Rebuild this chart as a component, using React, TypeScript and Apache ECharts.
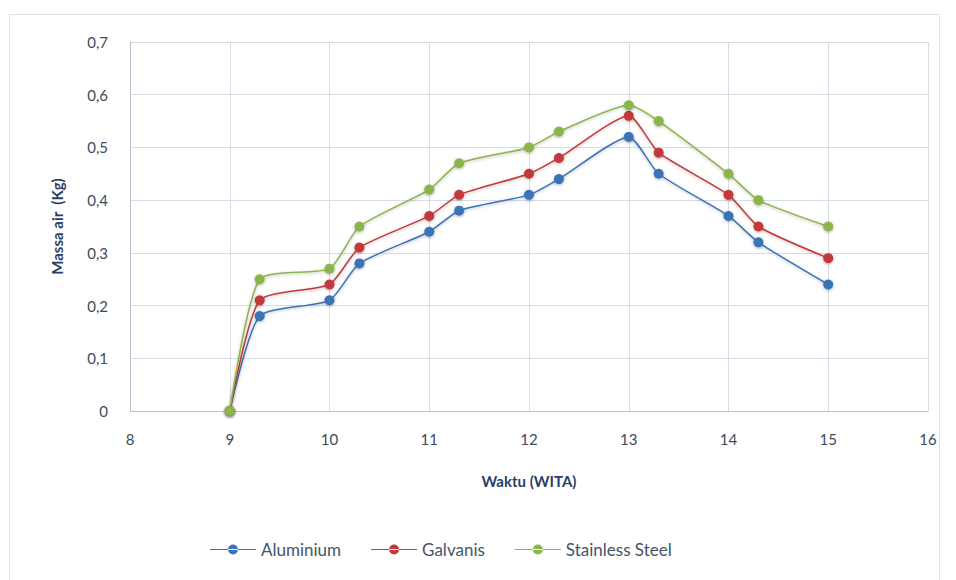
import React, { useEffect, useRef } from "react";
import * as echarts from "echarts";

const times = [9, 9.3, 10, 10.3, 11, 11.3, 12, 12.3, 13, 13.3, 14, 14.3, 15];
const aluminium = [0, 0.18, 0.21, 0.28, 0.34, 0.38, 0.41, 0.44, 0.52, 0.45, 0.37, 0.32, 0.24];
const galvanis = [0, 0.21, 0.24, 0.31, 0.37, 0.41, 0.45, 0.48, 0.56, 0.49, 0.41, 0.35, 0.29];
const stainless = [0, 0.25, 0.27, 0.35, 0.42, 0.47, 0.5, 0.53, 0.58, 0.55, 0.45, 0.4, 0.35];
const seriesNames = ["Aluminium", "Galvanis", "Stainless Steel"];
const colors = ["#3a73b8", "#c4393a", "#8cb548"];

const font = "Lato, 'Open Sans', sans-serif";
const legendIcon =
  "path://M0,4.4h46v1.2h-46z M18,5a5,5 0 1,0 10,0a5,5 0 1,0 -10,0z";

export default function App() {
  const ref = useRef<HTMLDivElement>(null);
  useEffect(() => {
    if (!ref.current) return;
    const chart = echarts.init(ref.current, null, { renderer: "svg" });
    const datasets = [aluminium, galvanis, stainless];
    chart.setOption({
      animation: false,
      backgroundColor: "#ffffff",
      color: colors,
      graphic: [
        {
          type: "rect",
          left: 7,
          top: 12,
          shape: { width: 930, height: 580 },
          style: { fill: "none", stroke: "#dce3ea", lineWidth: 1 },
          silent: true,
          z: -1,
        },
      ],
      grid: { left: 130, right: 28, top: 42, bottom: 169 },
      legend: {
        top: 536,
        left: 205,
        itemWidth: 46,
        itemHeight: 10,
        itemGap: 30,
        textStyle: { fontFamily: font, fontSize: 17, color: "#44546a" },
        data: seriesNames.map((n) => ({ name: n, icon: legendIcon })),
      },
      xAxis: {
        type: "value",
        min: 8,
        max: 16,
        interval: 1,
        name: "Waktu (WITA)",
        nameLocation: "middle",
        nameGap: 62,
        nameTextStyle: { fontFamily: font, fontSize: 15, fontWeight: "bold", color: "#2b3f66" },
        axisLine: { show: true, lineStyle: { color: "#b7c0cc", width: 1 } },
        axisTick: { show: false },
        axisLabel: { fontFamily: font, fontSize: 15, color: "#404a5a", margin: 20 },
        splitLine: { show: true, lineStyle: { color: "#d7dde6", width: 1 } },
      },
      yAxis: {
        type: "value",
        min: 0,
        max: 0.7,
        interval: 0.1,
        name: "Massa air  (Kg)",
        nameLocation: "middle",
        nameGap: 66,
        nameRotate: 90,
        nameTextStyle: { fontFamily: font, fontSize: 15, fontWeight: "bold", color: "#2b3f66" },
        axisLine: { show: true, lineStyle: { color: "#b7c0cc" } },
        axisTick: { show: false },
        axisLabel: {
          fontFamily: font,
          fontSize: 15,
          color: "#404a5a",
          margin: 22,
          formatter: (v: number) => (v === 0 ? "0" : v.toFixed(1).replace(".", ",")),
        },
        splitLine: { show: true, lineStyle: { color: "#d7dde6", width: 1 } },
      },
      series: seriesNames.map((name, i) => ({
        name,
        type: "line",
        smooth: 0.2,
        symbol: "circle",
        symbolSize: 10,
        data: times.map((t, j) => [t, datasets[i][j]]),
        lineStyle: {
          color: colors[i],
          width: 1.5,
          shadowColor: "rgba(0,0,0,0.25)",
          shadowBlur: 3,
          shadowOffsetY: 1,
        },
        itemStyle: {
          color: colors[i],
          shadowColor: "rgba(0,0,0,0.3)",
          shadowBlur: 3,
          shadowOffsetY: 1,
        },
      })),
    });
    return () => chart.dispose();
  }, []);
  return (
    <div
      ref={ref}
      style={{ position: "absolute", left: 0, top: 0, width: 956, height: 580 }}
    />
  );
}
